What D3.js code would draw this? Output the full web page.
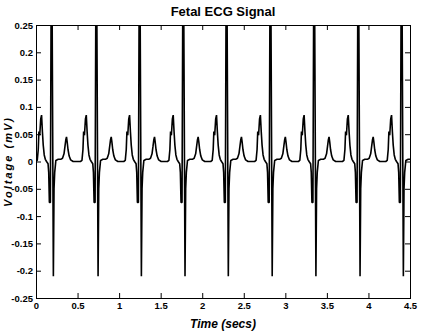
<!DOCTYPE html>
<html>
<head>
<meta charset="utf-8">
<script src="https://cdn.jsdelivr.net/npm/d3@7"></script>
<style>
  html, body { margin: 0; padding: 0; background: #fff; }
  svg { display: block; }
  text { font-family: "Liberation Sans", Arial, sans-serif; font-weight: bold; fill: #000; }
</style>
</head>
<body>
<svg id="chart" width="425" height="336"></svg>
<script>
// R-peak times of each fetal beat (secs)
const beatTimes = [0.187, 0.725, 1.246, 1.771, 2.292, 2.820, 3.346, 3.877, 4.398];

// one beat, time relative to the R peak (secs) and voltage (mV)
const beatOffsets = [-0.190, -0.172, -0.160, -0.152, -0.142, -0.130, -0.120, -0.110, -0.100, -0.088, -0.075, -0.060,
                     -0.042, -0.034, -0.026, -0.014, 0.000, 0.022, 0.030, 0.038, 0.052, 0.080, 0.110,
                     0.132, 0.150, 0.162, 0.172, 0.180, 0.188, 0.198, 0.212, 0.230, 0.260];
const beatValues  = [0.000, 0.002, 0.022, 0.055, 0.048, 0.078, 0.085, 0.055, 0.030, 0.012, 0.004, 0.000,
                     -0.004, -0.020, -0.075, -0.075, 0.500, -0.210, -0.050, -0.020, 0.002, 0.004, 0.004,
                     0.006, 0.014, 0.028, 0.040, 0.045, 0.036, 0.022, 0.010, 0.003, 0.000];

const xTicks = [0, 0.5, 1, 1.5, 2, 2.5, 3, 3.5, 4, 4.5];
const yTicks = [-0.25, -0.2, -0.15, -0.1, -0.05, 0, 0.05, 0.1, 0.15, 0.2, 0.25];

// === signal from the beats ===
const signal = [];
beatTimes.forEach(bt => {
  beatOffsets.forEach((off, i) => signal.push({ t: bt + off, v: beatValues[i] }));
});

const svg = d3.select("#chart");
const width = +svg.attr("width");
const height = +svg.attr("height");
const margin = { top: 25, right: 15, bottom: 38, left: 36 };
const innerWidth = width - margin.left - margin.right;
const innerHeight = height - margin.top - margin.bottom;

svg.append("rect").attr("width", width).attr("height", height).attr("fill", "#fff");

const g = svg.append("g").attr("transform", `translate(${margin.left}, ${margin.top})`);

const x = d3.scaleLinear().domain([0, 4.5]).range([0, innerWidth]);
const y = d3.scaleLinear().domain([-0.25, 0.25]).range([innerHeight, 0]);

svg.append("clipPath").attr("id", "plot-clip")
  .append("rect").attr("width", innerWidth).attr("height", innerHeight);

const line = d3.line().x(d => x(d.t)).y(d => y(d.v));

g.append("path")
  .datum(signal)
  .attr("clip-path", "url(#plot-clip)")
  .attr("fill", "none")
  .attr("stroke", "#000")
  .attr("stroke-width", 1.6)
  .attr("stroke-linejoin", "bevel")
  .attr("d", line);

// === axes, ticks inward like matlab ===
const fmt = d => String(d);
const bottomAxis = g.append("g").attr("transform", `translate(0, ${innerHeight})`)
  .call(d3.axisBottom(x).tickValues(xTicks).tickFormat(fmt).tickSize(-5).tickSizeOuter(0).tickPadding(4));
const leftAxis = g.append("g")
  .call(d3.axisLeft(y).tickValues(yTicks).tickFormat(fmt).tickSize(-5).tickSizeOuter(0).tickPadding(3));
const topAxis = g.append("g")
  .call(d3.axisTop(x).tickValues(xTicks).tickFormat("").tickSize(-5).tickSizeOuter(0));
const rightAxis = g.append("g").attr("transform", `translate(${innerWidth}, 0)`)
  .call(d3.axisRight(y).tickValues(yTicks).tickFormat("").tickSize(-5).tickSizeOuter(0));

g.selectAll(".domain").remove();
g.selectAll(".tick line").attr("stroke", "#000").attr("stroke-width", 1);
g.selectAll(".tick text").attr("font-size", "9.5px").attr("fill", "#000");
bottomAxis.selectAll("text").attr("dy", "0.71em");

g.append("rect")
  .attr("x", 0.5).attr("y", 0.5)
  .attr("width", innerWidth).attr("height", innerHeight)
  .attr("fill", "none").attr("stroke", "#000").attr("stroke-width", 1);

// === titles ===
svg.append("text")
  .attr("x", margin.left + innerWidth / 2)
  .attr("y", 16)
  .attr("text-anchor", "middle")
  .attr("font-size", "13px")
  .text("Fetal ECG Signal");

svg.append("text")
  .attr("x", margin.left + innerWidth / 2)
  .attr("y", 328)
  .attr("text-anchor", "middle")
  .attr("font-size", "12px")
  .attr("font-style", "italic")
  .text("Time (secs)");

svg.append("text")
  .attr("transform", `translate(12, ${margin.top + innerHeight / 2}) rotate(-90)`)
  .attr("text-anchor", "middle")
  .attr("font-size", "11px")
  .attr("font-style", "italic")
  .attr("letter-spacing", "2px")
  .text("Voltage (mV)");
</script>
</body>
</html>
